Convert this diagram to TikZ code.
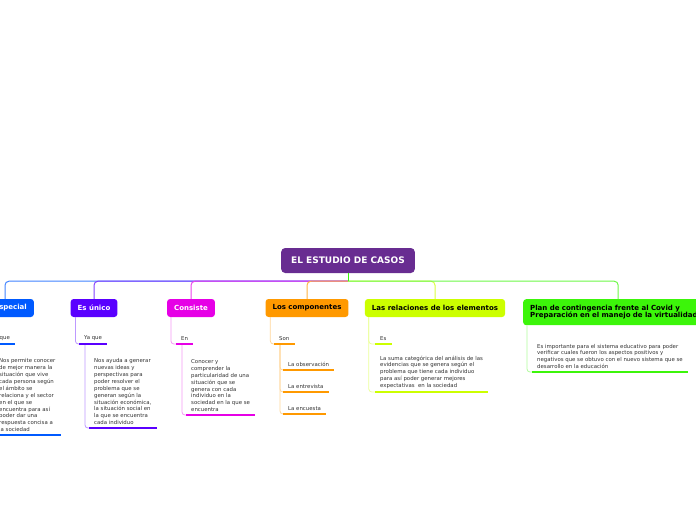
\documentclass[tikz,border=0pt]{standalone}
\usepackage{fontspec}
\setmainfont{DejaVu Sans}
\usetikzlibrary{positioning}

\definecolor{rootpurple}{RGB}{104,44,145}
\definecolor{topblue}{RGB}{0,90,255}
\definecolor{topviolet}{RGB}{90,0,255}
\definecolor{topmagenta}{RGB}{230,0,230}
\definecolor{toporange}{RGB}{255,153,0}
\definecolor{toplime}{RGB}{204,255,0}
\definecolor{topgreen}{RGB}{60,245,10}
\definecolor{leafgray}{RGB}{50,50,50}

\tikzset{
  root/.style={fill=rootpurple, text=white, rounded corners=4pt, minimum height=25pt,
    inner xsep=10pt, font=\bfseries\fontsize{9}{10}\selectfont},
  topic/.style={fill=#1, rounded corners=3pt, minimum height=18pt, inner xsep=7pt,
    font=\bfseries\fontsize{7}{7.6}\selectfont},
  leaf/.style={anchor=south west, align=left, inner xsep=5pt, inner ysep=3pt,
    text=leafgray, font=\fontsize{5.4}{6.9}\selectfont},
  uline/.style={draw=#1, line width=2.6pt},
  branch/.style={draw=#1!75, line width=1pt, rounded corners=4pt},
  sub/.style={draw=#1!40, line width=0.8pt, rounded corners=3pt}
}

\begin{document}
\begin{tikzpicture}[x=1pt,y=-1pt]
\useasboundingbox (0,0) rectangle (696,520);
\clip (0,0) rectangle (696,520);

% central topic
\node[root] (root) at (348,260.5) {EL ESTUDIO DE CASOS};
\coordinate (hub) at ([yshift=-8pt]root.south);

% main topics
\node[topic=topblue, text=white] (especial) at (5,308) {Es especial};
\node[topic=topviolet, text=white] (unico) at (94,308) {Es único};
\node[topic=topmagenta, text=white] (consiste) at (191,308) {Consiste};
\node[topic=toporange] (componentes) at (307,308) {Los componentes};
\node[topic=toplime] (relaciones) at (435,308) {Las relaciones de los elementos};
\node[topic=topgreen, anchor=north west, align=left, minimum height=26pt, text width=176pt] (plan) at (523,299)
  {Plan de contingencia frente al Covid y\\Preparación en el manejo de la virtualidad};

% leaves
\node[leaf] (porque) at (-14,344) {Porque};
\node[leaf] (especialtxt) at (-6,435) {Nos permite conocer\\de mejor manera la\\situación que vive\\cada persona según\\el ámbito se\\relaciona y el sector\\en el que se\\encuentra para así\\poder dar una\\respuesta concisa a\\la sociedad};
\node[leaf] (yaque) at (79,344) {Ya que};
\node[leaf] (ayuda) at (89,428) {Nos ayuda a generar\\nuevas ideas y\\perspectivas para\\poder resolver el\\problema que se\\generan según la\\situación económica,\\la situación social en\\la que se encuentra\\cada individuo};
\node[leaf] (en) at (176,344) {En};
\node[leaf] (conocer) at (186,415) {Conocer y\\comprender la\\particularidad de una\\situación que se\\genera con cada\\individuo en la\\sociedad en la que se\\encuentra};
\node[leaf] (son) at (274,344) {Son};
\node[leaf] (observacion) at (283,370) {La observación};
\node[leaf] (entrevista) at (283,392) {La entrevista};
\node[leaf] (encuesta) at (283,414) {La encuesta};
\node[leaf] (es) at (375,344) {Es};
\node[leaf] (suma) at (375,392) {La suma categórica del análisis de las\\evidencias que se genera según el\\problema que tiene cada individuo\\para así poder generar mejores\\expectativas~ en la sociedad};
\node[leaf] (importante) at (532,372) {Es importante para el sistema educativo para poder\\verificar cuales fueron los aspectos positivos y\\negativos que se obtuvo con el nuevo sistema que se\\desarrollo en la educación};

% branches from the central topic
\draw[branch=topblue] (hub) -| (especial.north);
\draw[branch=topviolet] (hub) -| (unico.north);
\draw[branch=topmagenta] (hub) -| (consiste.north);
\draw[branch=toporange] (hub) -| (componentes.north);
\draw[branch=toplime] (hub) -| (relaciones.north);
\draw[branch=topgreen] (hub) -| (plan.north);
\draw[topgreen, line width=1pt] (root.south) -- (hub);

% sub branches
\draw[sub=topblue] ([xshift=5pt]especial.south west) |- (porque.south west);
\draw[sub=topblue] ([xshift=6pt]porque.south west) |- (especialtxt.south west);
\draw[sub=topviolet] ([xshift=5pt]unico.south west) |- (yaque.south west);
\draw[sub=topviolet] ([xshift=6pt]yaque.south west) |- (ayuda.south west);
\draw[sub=topmagenta] ([xshift=4pt]consiste.south west) |- (en.south west);
\draw[sub=topmagenta] ([xshift=6pt]en.south west) |- (conocer.south west);
\draw[sub=toporange] ([xshift=5pt]componentes.south west) |- (son.south west);
\draw[sub=toporange] ([xshift=6pt]son.south west) |- (observacion.south west);
\draw[sub=toporange] ([xshift=6pt]son.south west) |- (entrevista.south west);
\draw[sub=toporange] ([xshift=6pt]son.south west) |- (encuesta.south west);
\draw[sub=toplime] ([xshift=4pt]relaciones.south west) |- (es.south west);
\draw[sub=toplime] ([xshift=4pt]relaciones.south west) |- (suma.south west);
\draw[sub=topgreen] ([xshift=4pt]plan.south west) |- (importante.south west);

% underlines
\draw[uline=topblue] (porque.south west) -- (porque.south east);
\draw[uline=topblue] (especialtxt.south west) -- (especialtxt.south east);
\draw[uline=topviolet] (yaque.south west) -- (yaque.south east);
\draw[uline=topviolet] (ayuda.south west) -- (ayuda.south east);
\draw[uline=topmagenta] (en.south west) -- (en.south east);
\draw[uline=topmagenta] (conocer.south west) -- (conocer.south east);
\draw[uline=toporange] (son.south west) -- (son.south east);
\draw[uline=toporange] (observacion.south west) -- (observacion.south east);
\draw[uline=toporange] (entrevista.south west) -- (entrevista.south east);
\draw[uline=toporange] (encuesta.south west) -- (encuesta.south east);
\draw[uline=toplime] (es.south west) -- (es.south east);
\draw[uline=toplime] (suma.south west) -- (suma.south east);
\draw[uline=topgreen] (importante.south west) -- (importante.south east);
\end{tikzpicture}
\end{document}
